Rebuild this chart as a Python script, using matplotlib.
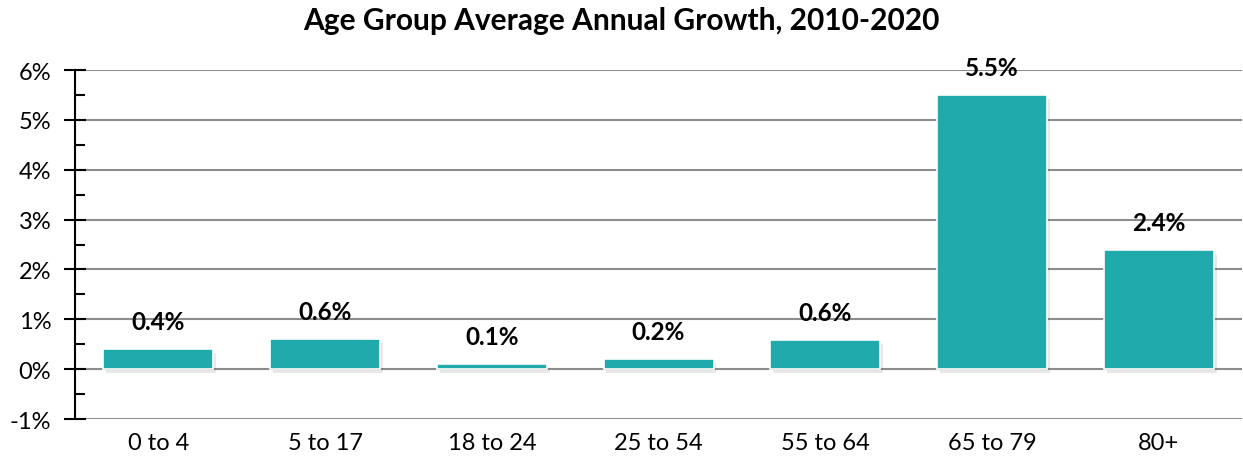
import matplotlib.pyplot as plt
import matplotlib.patheffects as pe
from matplotlib.ticker import MultipleLocator, FuncFormatter

categories = ["0 to 4", "5 to 17", "18 to 24", "25 to 54", "55 to 64", "65 to 79", "80+"]
growth = [0.4, 0.6, 0.1, 0.2, 0.58, 5.5, 2.4]
labels = ["0.4%", "0.6%", "0.1%", "0.2%", "0.6%", "5.5%", "2.4%"]

plt.rcParams["font.family"] = ["Lato", "DejaVu Sans"]

fig = plt.figure(figsize=(12.43, 4.64), dpi=100)
ax = fig.add_axes([0.0603, 0.0948, 0.939, 0.752])

x = range(len(categories))
bars = ax.bar(x, growth, width=0.66, color="#20aaac", edgecolor="white",
              linewidth=1.2, zorder=3)
for b in bars:
    b.set_path_effects([pe.SimplePatchShadow(offset=(2, -3), alpha=0.12, shadow_rgbFace="#444444"),
                        pe.Normal()])

for i, (v, t) in enumerate(zip(growth, labels)):
    ax.text(i, v + 0.55, t, ha="center", va="center", fontsize=17.5,
            fontweight="bold", color="black", zorder=4)

ax.set_xlim(-0.5, len(categories) - 0.5)
ax.set_ylim(-1, 6)
ax.yaxis.set_major_locator(MultipleLocator(1))
ax.yaxis.set_minor_locator(MultipleLocator(0.5))
ax.yaxis.set_major_formatter(FuncFormatter(lambda v, p: f"{v:.0f}%"))
ax.grid(axis="y", which="major", color="#8c8c8c", linewidth=1.5, zorder=0)

ax.set_xticks(list(x))
ax.set_xticklabels(categories, fontsize=17)
ax.tick_params(axis="x", length=0, pad=9)
ax.tick_params(axis="y", which="major", direction="inout", length=16, width=1.5,
               labelsize=17, pad=9)
ax.tick_params(axis="y", which="minor", direction="in", length=7, width=1.5)

for s in ["top", "right", "bottom"]:
    ax.spines[s].set_visible(False)
ax.spines["left"].set_linewidth(1.5)

fig.suptitle("Age Group Average Annual Growth, 2010-2020", fontsize=21.5,
             fontweight="bold", x=0.5, y=0.985)

fig.savefig("out.png", dpi=100)
